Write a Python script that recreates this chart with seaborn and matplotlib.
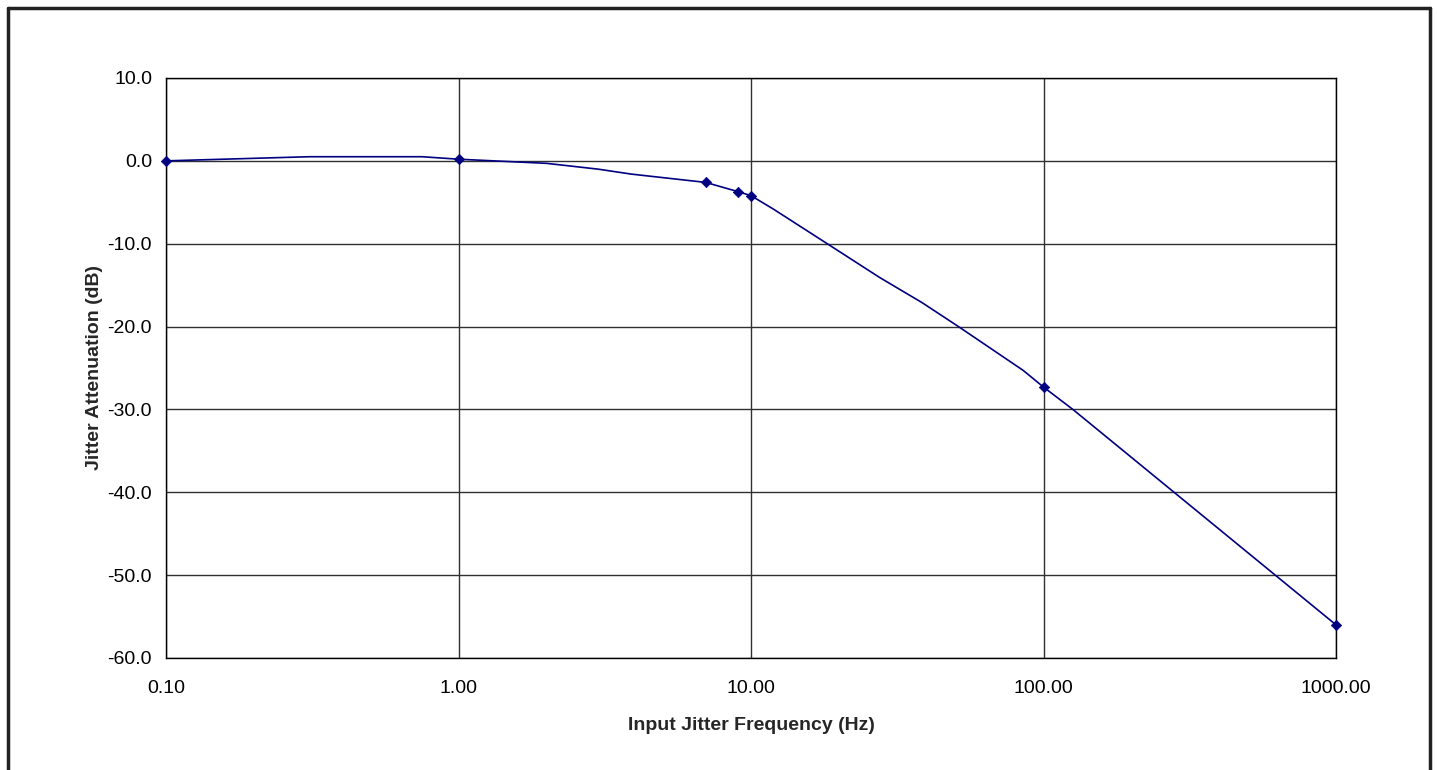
import matplotlib
matplotlib.use("Agg")
import matplotlib.pyplot as plt
from matplotlib.lines import Line2D
from matplotlib.ticker import FixedLocator, FixedFormatter, NullLocator
import seaborn as sns
import pandas as pd

# Curve (polyline)
line_freq = [0.1, 0.31, 0.75, 1.0, 2.0, 3.0, 3.9, 7.0, 9.0, 10.0, 11.9, 17.5,
             27.6, 38.4, 51.2, 85.3, 100.0, 126.0, 1000.0]
line_db = [0.0, 0.5, 0.5, 0.2, -0.3, -1.0, -1.6, -2.6, -3.7, -4.2, -5.8, -9.6,
           -14.1, -17.1, -20.0, -25.3, -27.3, -30.0, -56.0]

# Marked measurement points
mark_freq = [0.1, 1.0, 7.0, 9.0, 10.0, 100.0, 1000.0]
mark_db = [0.0, 0.2, -2.6, -3.7, -4.2, -27.3, -56.0]

x_ticks = [0.1, 1.0, 10.0, 100.0, 1000.0]
x_tick_labels = ["0.10", "1.00", "10.00", "100.00", "1000.00"]
y_ticks = [10, 0, -10, -20, -30, -40, -50, -60]
y_tick_labels = ["10.0", "0.0", "-10.0", "-20.0", "-30.0", "-40.0", "-50.0", "-60.0"]

sns.set_theme(style="white")
plt.rcParams["font.family"] = ["Liberation Sans", "DejaVu Sans"]

fig = plt.figure(figsize=(14.37, 7.70), dpi=100)
ax = fig.add_axes([166 / 1437, 1 - 658 / 770, (1336 - 166) / 1437, (658 - 78) / 770])

line_df = pd.DataFrame({"freq": line_freq, "db": line_db})
mark_df = pd.DataFrame({"freq": mark_freq, "db": mark_db})

ax.set_xscale("log")
sns.lineplot(data=line_df, x="freq", y="db", sort=False, estimator=None,
             color="#000080", linewidth=1.2, ax=ax, zorder=3)
sns.scatterplot(data=mark_df, x="freq", y="db", marker="D", s=28,
                color="#000080", edgecolor="#000080", linewidth=0.5, ax=ax,
                zorder=4, clip_on=False)

ax.set_xlim(0.1, 1000)
ax.set_ylim(-60, 10)
ax.xaxis.set_major_locator(FixedLocator(x_ticks))
ax.xaxis.set_major_formatter(FixedFormatter(x_tick_labels))
ax.xaxis.set_minor_locator(NullLocator())
ax.yaxis.set_major_locator(FixedLocator(y_ticks))
ax.yaxis.set_major_formatter(FixedFormatter(y_tick_labels))

ax.grid(True, which="major", color="#303030", linewidth=1.0)
for s in ax.spines.values():
    s.set_color("black")
    s.set_linewidth(1.0)

ax.tick_params(axis="both", which="major", length=0, labelsize=14,
               colors="black")
ax.tick_params(axis="x", pad=16)
ax.tick_params(axis="y", pad=10)

ax.set_xlabel("Input Jitter Frequency (Hz)", fontsize=14, fontweight="bold",
              labelpad=14)
ax.set_ylabel("Jitter Attenuation (dB)", fontsize=14, fontweight="bold",
              labelpad=3)

# Outer frame (left, top, right)
frame_kw = dict(color="#222222", linewidth=2.5, transform=fig.transFigure)
l, r, t = 8 / 1437, 1430 / 1437, 1 - 8 / 770
fig.add_artist(Line2D([l, l], [0, t], **frame_kw))
fig.add_artist(Line2D([l, r], [t, t], **frame_kw))
fig.add_artist(Line2D([r, r], [0, t], **frame_kw))

fig.savefig("out.png", dpi=100)
